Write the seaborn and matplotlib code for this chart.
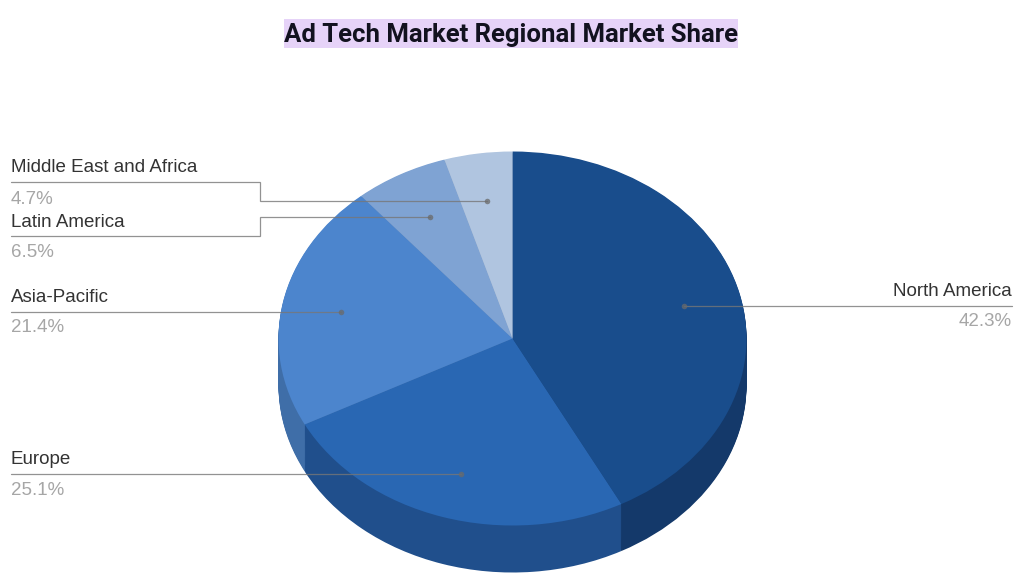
import numpy as np
import matplotlib
matplotlib.use('Agg')
import matplotlib.pyplot as plt
from matplotlib.patches import Rectangle
import seaborn as sns

regions = ['North America', 'Europe', 'Asia-Pacific', 'Latin America', 'Middle East and Africa']
shares = [42.3, 25.1, 21.4, 6.5, 4.7]
top_colors = ['#194d8c', '#2967b3', '#4c85cd', '#7fa3d3', '#b0c5e0']
side_colors = ['#14396a', '#204f8c', '#3f6ea8', '#6a8bb8', '#94a8c4']
title = 'Ad Tech Market Regional Market Share'

W, H = 1024, 583
# pie ellipse in pixels
cx, cy, rx, ry, depth = 512.5, 338.5, 234, 187, 47

sns.set_theme(style='white')
plt.rcParams['font.family'] = ['Liberation Sans', 'DejaVu Sans']

fig = plt.figure(figsize=(W / 100, H / 100), dpi=100, facecolor='white')

# pie axes, stretched afterwards so the circle turns into the tilted ellipse
ax = fig.add_axes([(cx - rx) / W, 1 - (cy + ry + depth) / H, 2 * rx / W, (2 * ry + depth) / H])
d = depth / ry
# stack the pie downwards for the side wall
for off in np.linspace(d, 0.004, 48):
    ax.pie(shares, startangle=90, counterclock=False, colors=side_colors,
           center=(0, -off), radius=1, frame=False,
           wedgeprops={'linewidth': 0})
ax.pie(shares, startangle=90, counterclock=False, colors=top_colors,
       center=(0, 0), radius=1, frame=False, wedgeprops={'linewidth': 0})
ax.set_aspect('auto')
ax.set_xlim(-1, 1)
ax.set_ylim(-1 - d, 1)
ax.axis('off')

# overlay in pixel coords for the labels and leader lines
ov = fig.add_axes([0, 0, 1, 1], zorder=5)
ov.set_xlim(0, W)
ov.set_ylim(H, 0)
ov.axis('off')
ov.patch.set_alpha(0)

leaders = {
    'North America': ([1012, 684], [306, 306]),
    'Europe': ([11, 461], [474, 474]),
    'Asia-Pacific': ([11, 341], [312, 312]),
    'Latin America': ([11, 260, 260, 430], [236, 236, 217, 217]),
    'Middle East and Africa': ([11, 260, 260, 487], [182, 182, 201, 201]),
}
name_y = {'North America': 291.5, 'Europe': 459.5, 'Asia-Pacific': 297.5,
          'Latin America': 222.5, 'Middle East and Africa': 167.5}
pct_y = {'North America': 321.5, 'Europe': 490.5, 'Asia-Pacific': 327.5,
         'Latin America': 252.5, 'Middle East and Africa': 199.5}

for name, val in zip(regions, shares):
    xs, ys = leaders[name]
    ov.plot(xs, ys, color='#777777', lw=0.9, alpha=0.8, solid_joinstyle='miter')
    ov.plot(xs[-1], ys[-1], 'o', ms=4, color='#6a6a6a', alpha=0.75, mew=0)
    right = name == 'North America'
    tx = 1012 if right else 11
    ha = 'right' if right else 'left'
    ov.text(tx, name_y[name], name, ha=ha, va='center', fontsize=13.5, color='#333333')
    ov.text(tx, pct_y[name], f'{val}%', ha=ha, va='center', fontsize=13.5, color='#a6a6a6')

ov.add_patch(Rectangle((284, 19), 454, 29, facecolor='#e6d3f8', edgecolor='none'))
ov.text(511.5, 35, title, ha='center', va='center', fontsize=18.5, fontweight='bold',
        family=['Roboto', 'DejaVu Sans'], color='#12121f')

fig.savefig('out.png', dpi=100, facecolor='white')
